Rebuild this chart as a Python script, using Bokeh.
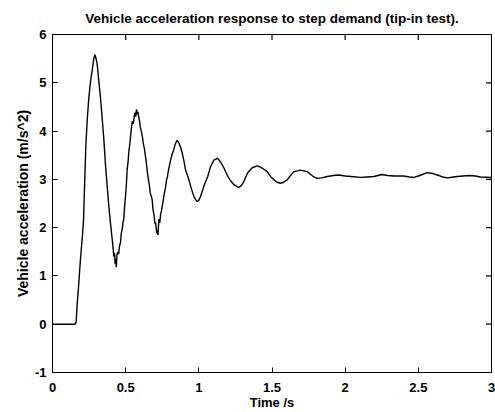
import math
from bokeh.plotting import figure
from bokeh.models import Range1d, FixedTicker, CustomJSTickFormatter
from bokeh.embed import file_html
from bokeh.resources import INLINE

title_text = "Vehicle acceleration response to step demand (tip-in test)."
x_label = "Time /s"
y_label = "Vehicle acceleration (m/s^2)"
x_ticks = [0, 0.5, 1, 1.5, 2, 2.5, 3]
y_ticks = [-1, 0, 1, 2, 3, 4, 5, 6]

time_s = [
    0.000, 0.155, 0.162, 0.168, 0.175, 0.182, 0.190, 0.198, 0.205, 0.212,
    0.220, 0.228, 0.237, 0.246, 0.255, 0.263, 0.271, 0.282, 0.290, 0.296,
    0.305, 0.316, 0.328, 0.340, 0.350, 0.362, 0.374, 0.385, 0.396, 0.408,
    0.414, 0.419, 0.424, 0.428, 0.432, 0.436, 0.440, 0.446, 0.452, 0.458,
    0.465, 0.470, 0.476, 0.482, 0.487, 0.493, 0.499, 0.505, 0.510, 0.516,
    0.521, 0.527, 0.533, 0.539, 0.545, 0.552, 0.558, 0.564, 0.569, 0.574,
    0.579, 0.584, 0.590, 0.595, 0.600, 0.607, 0.615, 0.622, 0.629, 0.636,
    0.643, 0.650, 0.656, 0.662, 0.668, 0.675, 0.681, 0.686, 0.690, 0.695,
    0.700, 0.704, 0.709, 0.713, 0.717, 0.721, 0.727, 0.733, 0.739, 0.745,
    0.750, 0.756, 0.761, 0.767, 0.773, 0.779, 0.785, 0.792, 0.800, 0.807,
    0.817, 0.827, 0.838, 0.846, 0.852, 0.858, 0.866, 0.875, 0.886, 0.897,
    0.909, 0.920, 0.932, 0.945, 0.957, 0.966, 0.978, 0.989, 1.000, 1.012,
    1.023, 1.034, 1.047, 1.060, 1.080, 1.103, 1.128, 1.148, 1.171, 1.200,
    1.220, 1.240, 1.273, 1.290, 1.307, 1.333, 1.365, 1.400, 1.430, 1.467,
    1.490, 1.513, 1.535, 1.558, 1.580, 1.604, 1.627, 1.650, 1.695, 1.740,
    1.765, 1.786, 1.810, 1.840, 1.878, 1.920, 1.957, 2.000, 2.037, 2.105,
    2.150, 2.196, 2.253, 2.290, 2.333, 2.400, 2.440, 2.470, 2.510, 2.560,
    2.600, 2.630, 2.665, 2.700, 2.740, 2.766, 2.846, 2.890, 2.925, 3.000,
]
accel = [
    0.00, 0.00, 0.05, 0.40, 0.65, 0.95, 1.30, 1.60, 1.85, 2.15,
    2.95, 3.70, 4.22, 4.60, 4.90, 5.10, 5.25, 5.50, 5.58, 5.52,
    5.39, 5.05, 4.69, 4.25, 3.87, 3.30, 2.85, 2.44, 2.10, 1.76,
    1.58, 1.40, 1.48, 1.25, 1.35, 1.18, 1.42, 1.50, 1.45, 1.62,
    1.70, 1.88, 1.96, 2.12, 2.18, 2.45, 2.65, 2.90, 3.20, 3.35,
    3.55, 3.70, 3.87, 4.05, 4.20, 4.15, 4.30, 4.38, 4.30, 4.45,
    4.35, 4.40, 4.28, 4.20, 4.08, 4.00, 3.87, 3.72, 3.62, 3.46,
    3.30, 3.10, 2.99, 2.88, 2.72, 2.65, 2.58, 2.40, 2.32, 2.25,
    2.08, 2.11, 1.98, 1.88, 1.95, 1.85, 2.18, 2.10, 2.28, 2.35,
    2.44, 2.55, 2.65, 2.75, 2.85, 2.98, 3.05, 3.18, 3.30, 3.40,
    3.52, 3.60, 3.72, 3.78, 3.81, 3.78, 3.74, 3.67, 3.55, 3.40,
    3.20, 3.10, 2.99, 2.85, 2.73, 2.65, 2.58, 2.54, 2.57, 2.65,
    2.75, 2.85, 2.96, 3.05, 3.26, 3.40, 3.44, 3.36, 3.24, 3.05,
    2.96, 2.89, 2.83, 2.87, 2.95, 3.13, 3.24, 3.28, 3.24, 3.16,
    3.06, 2.99, 2.94, 2.92, 2.94, 2.99, 3.08, 3.16, 3.19, 3.16,
    3.10, 3.05, 3.02, 3.03, 3.06, 3.08, 3.09, 3.07, 3.06, 3.04,
    3.05, 3.06, 3.10, 3.08, 3.07, 3.07, 3.05, 3.04, 3.08, 3.14,
    3.12, 3.09, 3.05, 3.03, 3.05, 3.06, 3.08, 3.07, 3.05, 3.04,
]

FONT = "Liberation Sans"
FS = "13px"

p = figure(
    width=495, height=412, output_backend="svg", toolbar_location=None,
    x_range=Range1d(0, 3), y_range=Range1d(-1, 6),
    min_border_left=52, min_border_right=4, min_border_top=33, min_border_bottom=37,
    title=title_text,
)
p.background_fill_color = "white"
p.border_fill_color = "white"
p.outline_line_color = "black"
p.outline_line_width = 1
p.xgrid.visible = False
p.ygrid.visible = False

p.title.align = "center"
p.title.text_font = FONT
p.title.text_font_size = "13.5px"
p.title.text_font_style = "bold"
p.title.text_color = "black"
p.title.standoff = 17

fmt = CustomJSTickFormatter(code="return String(tick);")

for ax, ticks in ((p.xaxis[0], x_ticks), (p.yaxis[0], y_ticks)):
    ax.ticker = FixedTicker(ticks=ticks)
    ax.formatter = fmt
    ax.major_tick_in = 5
    ax.major_tick_out = 0
    ax.minor_tick_line_color = None
    ax.axis_line_color = "black"
    ax.major_tick_line_color = "black"
    ax.major_label_text_font = FONT
    ax.major_label_text_font_size = FS
    ax.major_label_text_font_style = "bold"
    ax.major_label_text_color = "black"
    ax.axis_label_text_font = FONT
    ax.axis_label_text_font_size = FS
    ax.axis_label_text_font_style = "bold"
    ax.axis_label_text_color = "black"

p.xaxis[0].axis_label = x_label
p.yaxis[0].axis_label = y_label
p.yaxis[0].axis_label_text_font_size = "14px"
p.xaxis[0].major_label_standoff = 10
p.yaxis[0].major_label_standoff = 6
p.xaxis[0].axis_label_standoff = 0
p.yaxis[0].axis_label_standoff = 1

# box ticks on the top and right edges (MATLAB "box on"), clipped to the frame
p.scatter(x_ticks, [y_ticks[-1]] * len(x_ticks), marker="dash", angle=math.pi / 2,
          size=11, line_color="black", line_width=1.2)
p.scatter([x_ticks[-1]] * len(y_ticks), y_ticks, marker="dash",
          size=11, line_color="black", line_width=1.2)

p.line(time_s, accel, line_color="black", line_width=1.4)

open("out.html", "w").write(file_html(p, INLINE))
